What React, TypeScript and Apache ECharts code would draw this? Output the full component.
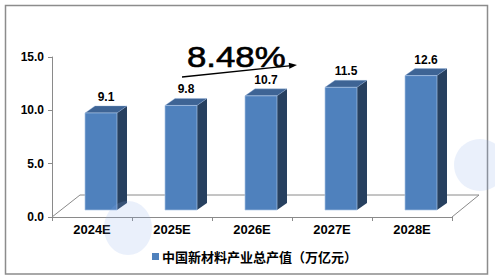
import React, { useEffect, useRef } from "react";
import * as echarts from "echarts";

const categories = ["2024E", "2025E", "2026E", "2027E", "2028E"];
const values = [9.1, 9.8, 10.7, 11.5, 12.6];
const seriesName = "中国新材料产业总产值（万亿元）";
const growthText = "8.48%";
const yTicks = { min: 0, max: 15, interval: 5 };

const FRONT = "#4F81BD";
const TOP = "#3E6495";
const SIDE = "#27405F";
const GRAY = "#8A8A8A";

export default function App() {
  const ref = useRef<HTMLDivElement>(null);
  useEffect(() => {
    if (!ref.current) return;
    const chart = echarts.init(ref.current, undefined, { renderer: "svg" });
    const data = values.map((v, i) => [i, v]);
    const u = { x: 115, y: -12 };
    const len = Math.sqrt(u.x * u.x + u.y * u.y);
    const ux = u.x / len, uy = u.y / len;
    const tip = [297, 65];
    const hb = [tip[0] - 8 * ux, tip[1] - 8 * uy];
    const px = -uy, py = ux;
    chart.setOption({
      animation: false,
      backgroundColor: "#ffffff",
      grid: { left: 52, right: 43, top: 57, bottom: 63 },
      xAxis: {
        type: "category",
        data: categories,
        boundaryGap: true,
        axisLine: { show: true, lineStyle: { color: GRAY, width: 1 } },
        axisTick: { show: true, length: 4, lineStyle: { color: GRAY } },
        axisLabel: {
          margin: 6,
          color: "#000",
          fontSize: 13,
          fontWeight: "bold",
          fontFamily: "Liberation Sans",
        },
        splitLine: { show: false },
      },
      yAxis: {
        type: "value",
        min: yTicks.min,
        max: yTicks.max,
        interval: yTicks.interval,
        axisLine: { show: true, lineStyle: { color: GRAY, width: 1 } },
        axisTick: { show: true, length: 4, lineStyle: { color: GRAY } },
        axisLabel: {
          margin: 8,
          color: "#000",
          fontSize: 12,
          fontWeight: "bold",
          fontFamily: "Liberation Sans",
          formatter: (v: number) => v.toFixed(1),
        },
        splitLine: { show: false },
      },
      legend: {
        data: [seriesName],
        left: 152,
        top: 250,
        padding: 0,
        icon: "rect",
        itemWidth: 7,
        itemHeight: 7,
        textStyle: {
          color: "#000",
          fontSize: 13,
          fontWeight: "bold",
          fontFamily: "Noto Sans CJK SC",
          padding: [0, 0, 0, -2],
        },
      },
      graphic: [
        {
          type: "rect",
          shape: { x: 5.5, y: 5.5, width: 482, height: 268.5 },
          style: { fill: "none", stroke: "#8C8C8C", lineWidth: 1.5 },
          z: 1,
        },
        {
          type: "polyline",
          shape: { points: [[52, 217], [80, 195], [479, 195], [452, 217]] },
          style: { fill: "none", stroke: GRAY, lineWidth: 1 },
          z: 1,
        },
        {
          type: "text",
          x: 187,
          y: 57,
          scaleX: 1.2,
          style: {
            text: growthText,
            fill: "#000",
            stroke: "#000",
            lineWidth: 0.6,
            fontSize: 29,
            fontFamily: "Liberation Sans",
            align: "left",
            verticalAlign: "middle",
          },
          z: 10,
        },
        {
          type: "line",
          shape: { x1: 182, y1: 77, x2: hb[0], y2: hb[1] },
          style: { stroke: "#000", lineWidth: 1.3 },
          z: 10,
        },
        {
          type: "polygon",
          shape: {
            points: [
              tip,
              [hb[0] + 3 * px, hb[1] + 3 * py],
              [hb[0] - 3 * px, hb[1] - 3 * py],
            ],
          },
          style: { fill: "#000" },
          z: 10,
        },
        {
          type: "ellipse",
          shape: { cx: 128, cy: 228, rx: 24, ry: 27 },
          style: { fill: "rgba(140,170,235,0.18)" },
          z: 20,
        },
        {
          type: "circle",
          shape: { cx: 480, cy: 165, r: 26 },
          style: { fill: "rgba(140,170,235,0.18)" },
          z: 20,
        },
      ],
      series: [
        {
          name: seriesName,
          type: "custom",
          data,
          encode: { x: 0, y: 1 },
          itemStyle: { color: FRONT },
          clip: false,
          z: 5,
          renderItem: (params: any, api: any) => {
            const idx = api.value(0);
            const v = api.value(1);
            const top = api.coord([idx, v]);
            const base = api.coord([idx, 0]);
            const bw = 32, dx = 10, dy = -7, ox = 9, oy = -7;
            const x0 = top[0] - bw / 2 + ox;
            const x1 = x0 + bw;
            const yT = top[1] + oy;
            const yB = base[1] + oy;
            return {
              type: "group",
              children: [
                {
                  type: "polygon",
                  shape: { points: [[x1, yT], [x1 + dx, yT + dy], [x1 + dx, yB + dy], [x1, yB]] },
                  style: { fill: SIDE },
                },
                {
                  type: "polygon",
                  shape: { points: [[x0, yT], [x0 + dx, yT + dy], [x1 + dx, yT + dy], [x1, yT]] },
                  style: { fill: TOP, stroke: "rgba(150,180,220,0.6)", lineWidth: 0.6 },
                },
                {
                  type: "rect",
                  shape: { x: x0, y: yT, width: bw, height: yB - yT },
                  style: { fill: FRONT, stroke: "rgba(170,195,228,0.85)", lineWidth: 0.8 },
                },
                {
                  type: "text",
                  x: x0 + (bw + dx) / 2,
                  y: yT + dy - 9,
                  style: {
                    text: v.toFixed(1),
                    fill: "#000",
                    fontSize: 12,
                    fontWeight: "bold",
                    fontFamily: "Liberation Sans",
                    align: "center",
                    verticalAlign: "middle",
                  },
                },
              ],
            };
          },
        },
      ],
    });
    return () => chart.dispose();
  }, []);
  return (
    <div
      ref={ref}
      style={{ position: "fixed", left: 0, top: 0, width: 495, height: 280, background: "#fff" }}
    />
  );
}
